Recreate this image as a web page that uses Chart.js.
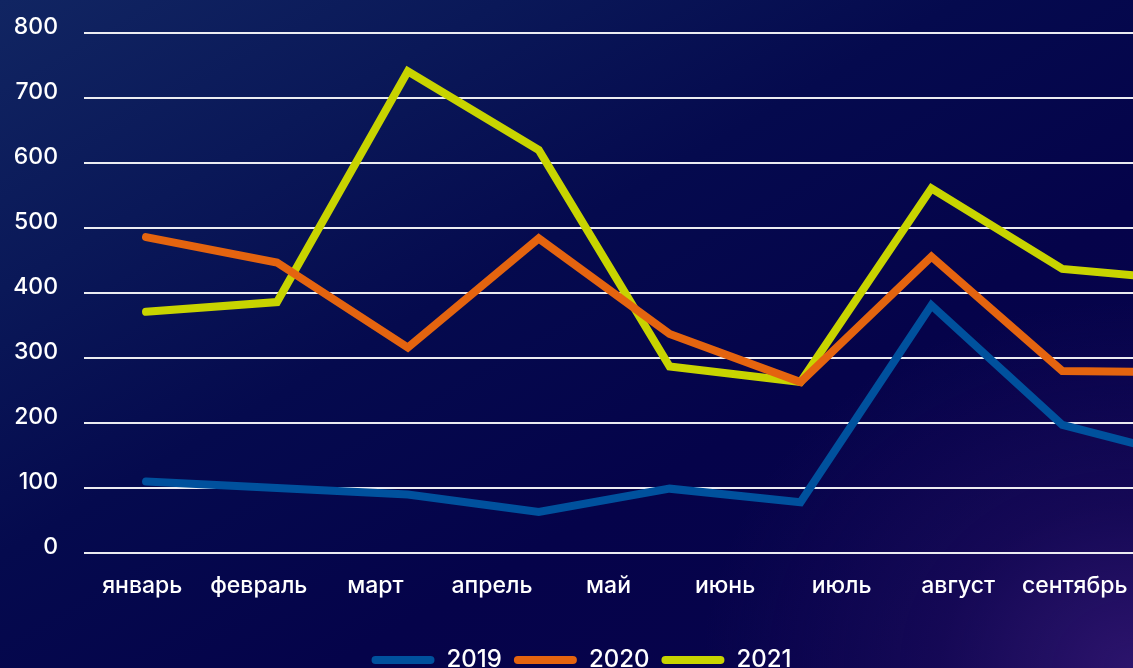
<!DOCTYPE html>
<html>
<head>
<meta charset="utf-8">
<script src="https://cdn.jsdelivr.net/npm/chart.js@4.4.0/dist/chart.umd.min.js"></script>
<style>
html,body{margin:0;padding:0;width:1133px;height:668px;overflow:hidden;}
body{
  background:
    radial-gradient(ellipse 38% 55% at 100% 100%, rgba(44,20,108,1) 0%, rgba(30,12,92,0.6) 45%, rgba(8,3,75,0) 100%),
    linear-gradient(150deg, #112562 0%, #0a1858 22%, #050a4e 42%, #05034a 65%, #08034c 100%);
}
#wrap{position:absolute;left:0;top:0;width:1133px;height:682px;}
</style>
</head>
<body>
<div id="wrap"><canvas id="c"></canvas></div>
<script>
const monthLabels = ['январь','февраль','март','апрель','май','июнь','июль','август','сентябрь'];
const seriesNames = ['2019','2020','2021'];
const values2019 = [110, 100, 90, 63, 99, 78, 381, 197, 145];
const values2020 = [486, 447, 316, 484, 337, 263, 456, 280, 278];
const values2021 = [371, 386, 741, 620, 287, 263, 561, 437, 419];
const yTickValues = [0, 100, 200, 300, 400, 500, 600, 700, 800];
const seriesColors = ['#00519d', '#e4640f', '#c8d400'];

const FONT = 'Inter, "Open Sans", sans-serif';
const seriesValues = [values2019, values2020, values2021];

const datasets = seriesNames.map((name, i) => ({
  label: name,
  data: seriesValues[i].map((v, k) => ({x: k, y: v})),
  borderColor: seriesColors[i],
  backgroundColor: seriesColors[i],
  borderWidth: 8,
  pointRadius: 0,
  pointHoverRadius: 0,
  borderCapStyle: 'round',
  borderJoinStyle: 'miter',
  tension: 0,
  fill: false,
  xAxisID: 'x',
  yAxisID: 'y'
}));

const legendShift = {
  id: 'legendShift',
  afterLayout(chart) {
    if (chart.legend) { chart.legend.left += 30; }
  }
};

new Chart(document.getElementById('c'), {
  type: 'line',
  data: { datasets },
  plugins: [legendShift],
  options: {
    responsive: true,
    maintainAspectRatio: false,
    animation: false,
    events: [],
    layout: { padding: { top: 33, left: 0, right: 0, bottom: 0 } },
    scales: {
      x: {
        type: 'linear',
        display: false,
        min: -0.474,
        max: 7.54
      },
      xl: {
        type: 'category',
        position: 'bottom',
        labels: monthLabels,
        offset: true,
        grid: { display: false, drawTicks: false },
        border: { display: false },
        ticks: {
          color: '#ffffff',
          font: { family: FONT, size: 23, weight: '500' },
          padding: 19,
          maxRotation: 0,
          minRotation: 0,
          autoSkip: false
        },
        afterFit: (s) => { s.height = 83; s.paddingLeft = 0; s.paddingRight = 0; }
      },
      y: {
        type: 'linear',
        min: 0,
        max: 800,
        afterBuildTicks: (s) => { s.ticks = yTickValues.map(v => ({ value: v })); },
        afterFit: (s) => { s.width = 84; s.paddingTop = 0; s.paddingBottom = 0; },
        grid: { color: 'rgba(255,255,255,0.92)', lineWidth: 2, drawTicks: false },
        border: { display: false },
        ticks: {
          color: '#ffffff',
          font: { family: FONT, size: 23, weight: '500' },
          padding: 26,
          labelOffset: -6
        }
      }
    },
    plugins: {
      tooltip: { enabled: false },
      legend: {
        position: 'bottom',
        labels: {
          color: '#ffffff',
          font: { family: FONT, size: 24, weight: '500' },
          boxWidth: 63,
          boxHeight: 8,
          padding: 12,
          generateLabels: (chart) => {
            const items = Chart.defaults.plugins.legend.labels.generateLabels(chart);
            items.forEach(it => { it.lineWidth = 0; it.borderRadius = 4; });
            return items;
          }
        }
      }
    }
  }
});
</script>
</body>
</html>
